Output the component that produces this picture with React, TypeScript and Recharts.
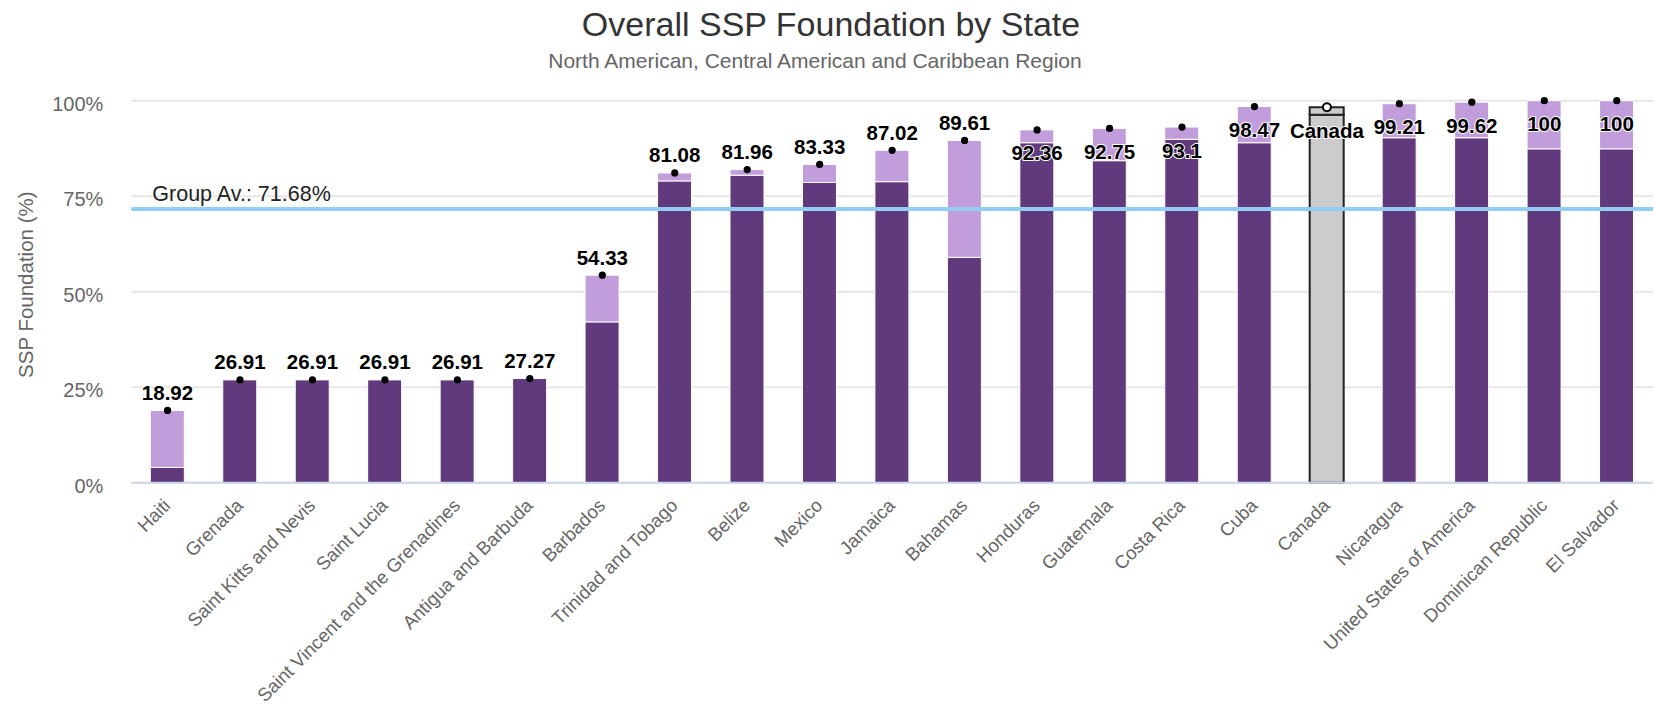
import {
  Bar,
  CartesianGrid,
  Cell,
  ComposedChart,
  LabelList,
  Line,
  ReferenceLine,
  XAxis,
  YAxis,
} from 'recharts'

// Member states, sorted by overall score
const countries = [
  'Haiti',
  'Grenada',
  'Saint Kitts and Nevis',
  'Saint Lucia',
  'Saint Vincent and the Grenadines',
  'Antigua and Barbuda',
  'Barbados',
  'Trinidad and Tobago',
  'Belize',
  'Mexico',
  'Jamaica',
  'Bahamas',
  'Honduras',
  'Guatemala',
  'Costa Rica',
  'Cuba',
  'Canada',
  'Nicaragua',
  'United States of America',
  'Dominican Republic',
  'El Salvador',
]
// dark segment (core foundation)
const foundation = [
  4.0, 26.91, 26.91, 26.91, 26.91, 27.27, 42.1, 79.0, 80.5, 78.6, 78.8, 59.0,
  89.0, 84.3, 89.9, 89.0, 96.3, 90.3, 90.3, 87.4, 87.4,
]
// light segment on top
const extra = [
  14.92, 0, 0, 0, 0, 0, 12.23, 2.08, 1.46, 4.73, 8.22, 30.61, 3.36, 8.45, 3.2,
  9.47, 2.0, 8.91, 9.32, 12.6, 12.6,
]
const totals = [
  18.92, 26.91, 26.91, 26.91, 26.91, 27.27, 54.33, 81.08, 81.96, 83.33, 87.02,
  89.61, 92.36, 92.75, 93.1, 98.47, 98.3, 99.21, 99.62, 100, 100,
]
const totalLabels = [
  '18.92', '26.91', '26.91', '26.91', '26.91', '27.27', '54.33', '81.08',
  '81.96', '83.33', '87.02', '89.61', '92.36', '92.75', '93.1', '98.47',
  'Canada', '99.21', '99.62', '100', '100',
]
const yTicks = [0, 25, 50, 75, 100]
const GROUP_AV = 71.68
const HIGHLIGHT = 'Canada'

const DARK = '#61397d'
const LIGHT = '#c19ddc'
const GREY = '#cccccc'
const AVG_LINE = '#92cdf3'
const GRID = '#e6e6e6'
const AXIS_TEXT = '#666666'
const FONT = '"Liberation Sans", Arial, sans-serif'

const W = 1654
const H = 714

const rows = countries.map((c, i) => ({
  country: c,
  core: foundation[i],
  extra: extra[i],
  total: totals[i],
  label: totalLabels[i],
}))

function XTick(props: any) {
  const { x, y, payload } = props
  const tx = x + 4
  const ty = y + 16
  return (
    <text
      x={tx}
      y={ty}
      transform={`rotate(-45, ${tx}, ${ty})`}
      textAnchor="end"
      fontSize={18.6}
      fontFamily={FONT}
      fill={AXIS_TEXT}
    >
      {payload.value}
    </text>
  )
}

function YTick(props: any) {
  const { x, y, payload } = props
  return (
    <text
      x={x}
      y={y + 3}
      dy="0.355em"
      textAnchor="end"
      fontSize={20}
      fontFamily={FONT}
      fill={AXIS_TEXT}
    >
      {`${payload.value}%`}
    </text>
  )
}

function TotalDot(props: any) {
  const { cx, cy, index } = props
  if (cx == null || cy == null) return null
  const hi = countries[index] === HIGHLIGHT
  return (
    <circle
      key={`dot-${index}`}
      cx={cx}
      cy={cy}
      r={hi ? 4 : 3.6}
      fill={hi ? '#ffffff' : '#000000'}
      stroke="#000000"
      strokeWidth={hi ? 2 : 0}
    />
  )
}

// Labels sit above the dot; near the top of the axis they flip inside the bar.
function TotalLabel(props: any) {
  const { x, y, index } = props
  if (x == null || y == null) return null
  const flip = totals[index] > 90
  return (
    <text
      x={x}
      y={flip ? y + 30.5 : y - 10.5}
      textAnchor="middle"
      fontSize={20.5}
      fontWeight="bold"
      fontFamily={FONT}
      fill="#000000"
      stroke="#ffffff"
      strokeWidth={2}
      strokeLinejoin="round"
      paintOrder="stroke"
    >
      {totalLabels[index]}
    </text>
  )
}

function AvgLabel(props: any) {
  const { viewBox } = props
  if (!viewBox) return null
  return (
    <text
      x={viewBox.x + 21}
      y={viewBox.y - 8}
      fontSize={21.5}
      fontFamily={FONT}
      fill="#222222"
      stroke="#ffffff"
      strokeWidth={1}
      paintOrder="stroke"
    >
      {`Group Av.: ${GROUP_AV}%`}
    </text>
  )
}

function YTitle(props: any) {
  const { viewBox } = props
  if (!viewBox) return null
  const cx = 26
  const cy = viewBox.y + viewBox.height / 2 - 7
  return (
    <text
      x={cx}
      y={cy}
      transform={`rotate(-90, ${cx}, ${cy})`}
      textAnchor="middle"
      dy="0.355em"
      fontSize={20.5}
      fontFamily={FONT}
      fill={AXIS_TEXT}
    >
      SSP Foundation (%)
    </text>
  )
}

export default function App() {
  return (
    <div
      style={{
        position: 'absolute',
        left: 0,
        top: 0,
        width: W,
        height: H,
        background: '#ffffff',
        fontFamily: FONT,
      }}
    >
      <div
        style={{
          position: 'absolute',
          left: 0,
          top: 7,
          width: 1662,
          textAlign: 'center',
          fontSize: 34,
          lineHeight: '34px',
          color: '#333333',
          whiteSpace: 'nowrap',
        }}
      >
        Overall SSP Foundation by State
      </div>
      <div
        style={{
          position: 'absolute',
          left: 0,
          top: 50,
          width: 1630,
          textAlign: 'center',
          fontSize: 21,
          lineHeight: '21px',
          color: AXIS_TEXT,
          whiteSpace: 'nowrap',
        }}
      >
        North American, Central American and Caribbean Region
      </div>
      <div style={{ position: 'absolute', left: 0, top: 0 }}>
        <ComposedChart
          width={W}
          height={H}
          data={rows}
          margin={{ top: 100.7, right: 1, bottom: 0, left: 0 }}
        >
          <CartesianGrid stroke={GRID} strokeWidth={2} vertical={false} />
          <XAxis
            dataKey="country"
            interval={0}
            height={231.3}
            tickLine={false}
            axisLine={{ stroke: '#ccd6eb', strokeWidth: 2 }}
            tick={<XTick />}
          />
          <YAxis
            width={131.3}
            domain={[0, 100]}
            ticks={yTicks}
            tickLine={false}
            axisLine={false}
            tickSize={0}
            tickMargin={28}
            tick={<YTick />}
            label={<YTitle />}
          />
          <ReferenceLine
            y={GROUP_AV}
            stroke={AVG_LINE}
            strokeWidth={4}
            label={<AvgLabel />}
          />
          <Bar
            dataKey="core"
            stackId="a"
            barSize={34}
            fill={DARK}
            stroke="#ffffff"
            strokeWidth={1}
            isAnimationActive={false}
          >
            {rows.map((r) => (
              <Cell
                key={`core-${r.country}`}
                fill={r.country === HIGHLIGHT ? GREY : DARK}
                stroke={r.country === HIGHLIGHT ? '#222222' : '#ffffff'}
                strokeWidth={r.country === HIGHLIGHT ? 2 : 1}
              />
            ))}
          </Bar>
          <Bar
            dataKey="extra"
            stackId="a"
            barSize={34}
            fill={LIGHT}
            stroke="#ffffff"
            strokeWidth={1}
            isAnimationActive={false}
          >
            {rows.map((r) => (
              <Cell
                key={`extra-${r.country}`}
                fill={r.country === HIGHLIGHT ? GREY : LIGHT}
                stroke={r.country === HIGHLIGHT ? '#222222' : '#ffffff'}
                strokeWidth={r.country === HIGHLIGHT ? 2 : 1}
              />
            ))}
          </Bar>
          <Line
            dataKey="total"
            stroke="none"
            dot={<TotalDot />}
            activeDot={false}
            isAnimationActive={false}
          >
            <LabelList dataKey="total" content={<TotalLabel />} />
          </Line>
        </ComposedChart>
      </div>
    </div>
  )
}
